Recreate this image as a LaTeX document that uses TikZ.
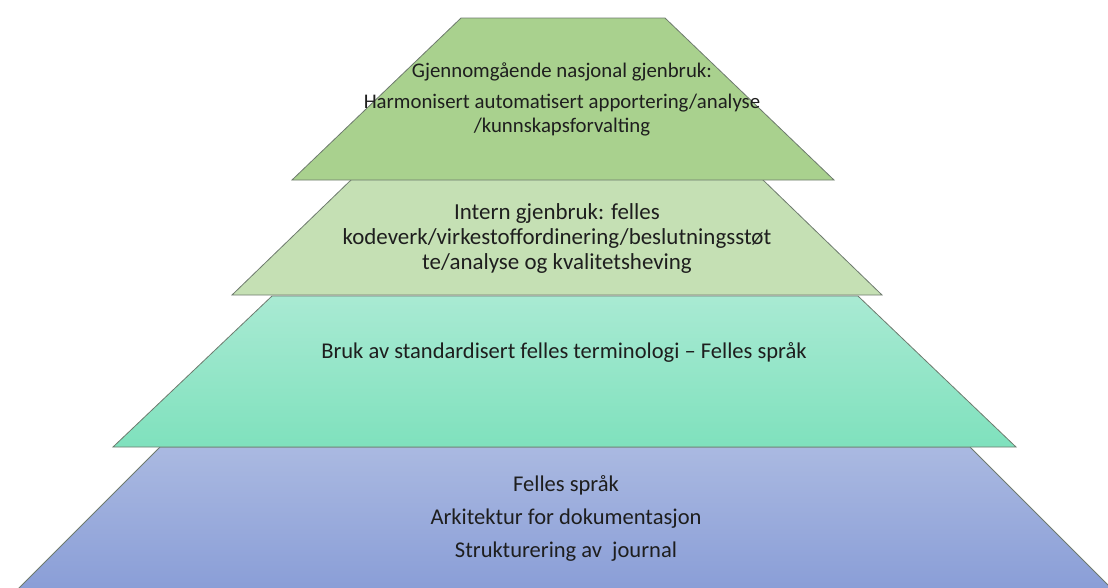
\documentclass[tikz,border=0pt]{standalone}
\usepackage{fontspec}
\setmainfont{Carlito}
\usepackage{xcolor}
\definecolor{ink}{HTML}{1E1E1E}
\definecolor{edge}{HTML}{6E7A6E}
\definecolor{topgreen}{HTML}{A9D18E}
\definecolor{palegreen}{HTML}{C5E0B4}
\definecolor{mintlight}{HTML}{A9EAD3}
\definecolor{mintdark}{HTML}{7FE1BD}
\definecolor{bluelight}{HTML}{AAB9E1}
\definecolor{bluedark}{HTML}{8A9ED7}
\tikzset{
  layer/.style={draw=edge, line width=.6pt, line join=miter},
  label/.style={text=ink, align=center, inner sep=0pt},
  toplabel/.style={label, font=\fontsize{15.6}{18}\selectfont},
  midlabel/.style={label, font=\fontsize{17.2}{19.1}\selectfont},
  widelabel/.style={label, font=\fontsize{16.9}{20.5}\selectfont}
}

\begin{document}
\begin{tikzpicture}[x=.75pt,y=-.75pt]
  \useasboundingbox (0,0) rectangle (1108,587);

  % ------------------------------------------------------------------
  % 4. Base layer
  \path[layer, top color=bluelight, bottom color=bluedark]
    (160,447) -- (970,447) -- (1112,589) -- (18,589) -- cycle;
  \node[widelabel] (base) at (566,518)
    {Felles språk\\[4.25pt]Arkitektur for dokumentasjon\\[4.25pt]Strukturering av \ journal};

  % ------------------------------------------------------------------
  % 3. Terminology layer
  \path[layer, top color=mintlight, bottom color=mintdark]
    (272,296) -- (858,296) -- (1016,447) -- (113,447) -- cycle;
  \node[widelabel] (terms) at (564,352)
    {Bruk av standardisert felles terminologi -- Felles språk};

  % ------------------------------------------------------------------
  % 2. Internal reuse layer
  \path[layer, fill=palegreen]
    (352,179) -- (762,179) -- (882,295) -- (232,295) -- cycle;
  \node[midlabel] (intern) at (557,238.5)
    {Intern gjenbruk: felles\\kodeverk/virkestoffordinering/beslutningsstøt\\te/analyse og kvalitetsheving};

  % ------------------------------------------------------------------
  % 1. National reuse layer
  \path[layer, fill=topgreen]
    (461,18) -- (665,18) -- (834,180) -- (292,180) -- cycle;
  \node[toplabel] (national) at (562,99.5)
    {Gjennomgående nasjonal gjenbruk:\\[5.25pt]Harmonisert automatisert apportering/analyse\\/kunnskapsforvalting};
\end{tikzpicture}
\end{document}
